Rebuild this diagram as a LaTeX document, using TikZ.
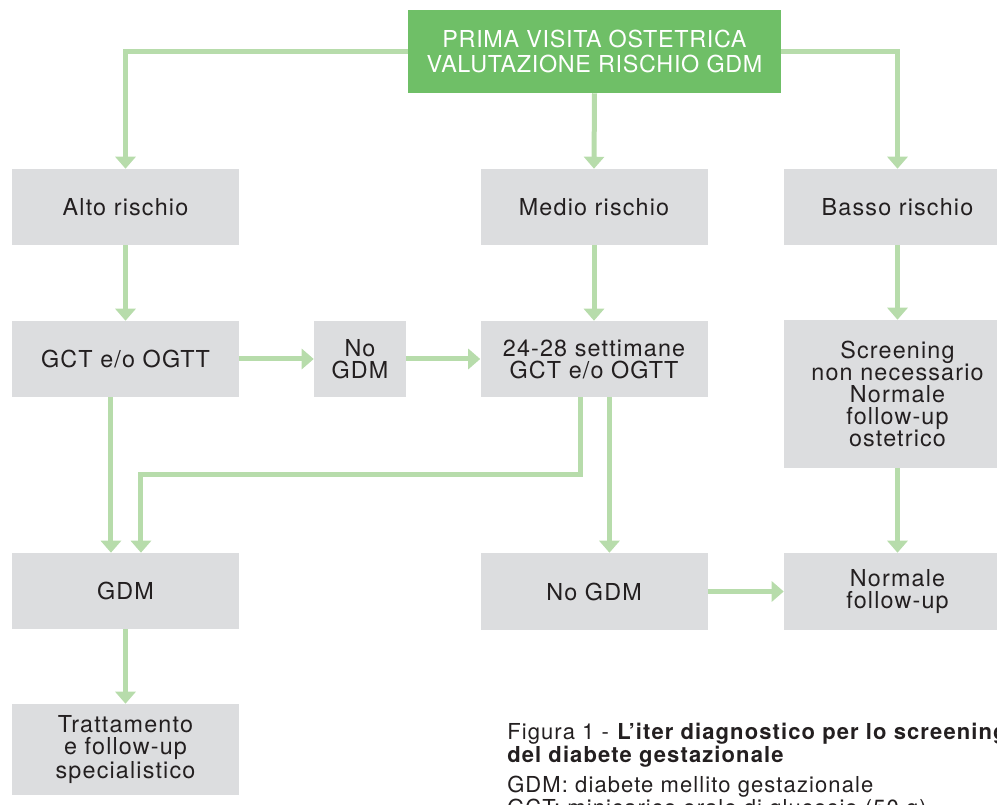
\documentclass[tikz,border=0pt]{standalone}
\usepackage{fontspec}
\setmainfont{TeX Gyre Heros}
\newfontfamily\boxfont{TeX Gyre Heros}[LetterSpace=5.0]
\newfontfamily\topfont{TeX Gyre Heros}[LetterSpace=3.0]
\usepackage{tikz}
\usetikzlibrary{arrows.meta}

\definecolor{boxgrey}{RGB}{220,221,223}
\definecolor{headgreen}{RGB}{111,191,103}
\definecolor{flowgreen}{RGB}{183,220,171}
\definecolor{txtdark}{RGB}{35,31,32}

\begin{document}
\begin{tikzpicture}[x=0.75pt,y=0.75pt,yscale=-1,xscale=1,
  greybox/.style={fill=boxgrey, text=txtdark, align=center, inner sep=0pt,
    minimum width=170.25pt, minimum height=57pt,
    font=\boxfont\fontsize{17.5}{16.5}\selectfont},
  headbox/.style={fill=headgreen, text=white, align=center, inner sep=0pt,
    minimum width=279.75pt, minimum height=62.25pt, text depth=0pt,
    font=\topfont\fontsize{17.5}{19}\selectfont},
  flow/.style={draw=flowgreen, line width=3.75pt,
    -{Triangle[width=15pt,length=9pt]}},
  captext/.style={anchor=base west, inner sep=0pt, text=txtdark,
    font=\boxfont\fontsize{16.5}{17}\selectfont}]
%set diagram to the size of the page
\clip (0,0) rectangle (997,805);

% Head Node
\node[headbox] (visita) at (594.5,51.5) {PRIMA VISITA OSTETRICA\\VALUTAZIONE RISCHIO GDM};

% Risk Nodes
\node[greybox] (alto) at (125.5,207) {Alto rischio};
\node[greybox] (medio) at (594,207) {Medio rischio};
\node[greybox] (basso) at (897.5,207) {Basso rischio};

% Test Nodes
\node[greybox] (gct) at (125.5,359) {GCT e/o OGTT};
\node[greybox, minimum width=69pt] (nogdmA) at (360,359) {No\\GDM};
\node[greybox] (settimane) at (594,359) {24-28 settimane\\GCT e/o OGTT};
\node[greybox, minimum height=111pt] (screening) at (897.5,394) {Screening\\non necessario\\Normale\\follow-up\\ostetrico};

% Outcome Nodes
\node[greybox] (gdm) at (125.5,591) {GDM};
\node[greybox, minimum height=57.75pt] (nogdmB) at (594,591.5) {No GDM};
\node[greybox, minimum height=57.75pt] (normale) at (897.5,591.5) {Normale\\follow-up};
\node[greybox, minimum height=68.25pt] (trattamento) at (125.5,749.5) {Trattamento\\e follow-up\\specialistico};

%Straight Lines
\draw[flow] (visita.west) -| (alto.north);
\draw[flow] (visita.east) -| (basso.north);
\draw[flow] (visita.south) -- (medio.north);
\draw[flow] (alto.south) -- (gct.north);
\draw[flow] (medio.south) -- (settimane.north);
\draw[flow] (basso.south) -- (screening.north);
\draw[flow] (gct.east) -- (nogdmA.west);
\draw[flow] (nogdmA.east) -- (settimane.west);
\draw[flow] ([xshift=-10.9pt]gct.south) -- ([xshift=-10.9pt]gdm.north);
\draw[flow] ([xshift=-10.5pt]settimane.south) -- ++(0,77) -| ([xshift=11.6pt]gdm.north);
\draw[flow] ([xshift=11.6pt]settimane.south) -- ([xshift=11.6pt]nogdmB.north);
\draw[flow] (nogdmB.east) -- (normale.west);
\draw[flow] (screening.south) -- (normale.north);
\draw[flow] (gdm.south) -- (trattamento.north);

% Text Node
\node[captext] (figura) at (507,739) {Figura 1 - \textbf{L’iter diagnostico per lo screening}};
\node[captext] (titolo) at (507,762) {\textbf{del diabete gestazionale}};
\node[captext] (legendaA) at (507,792) {GDM: diabete mellito gestazionale};
\node[captext] (legendaB) at (507,815) {GCT: minicarico orale di glucosio (50 g)};

\end{tikzpicture}
\end{document}
